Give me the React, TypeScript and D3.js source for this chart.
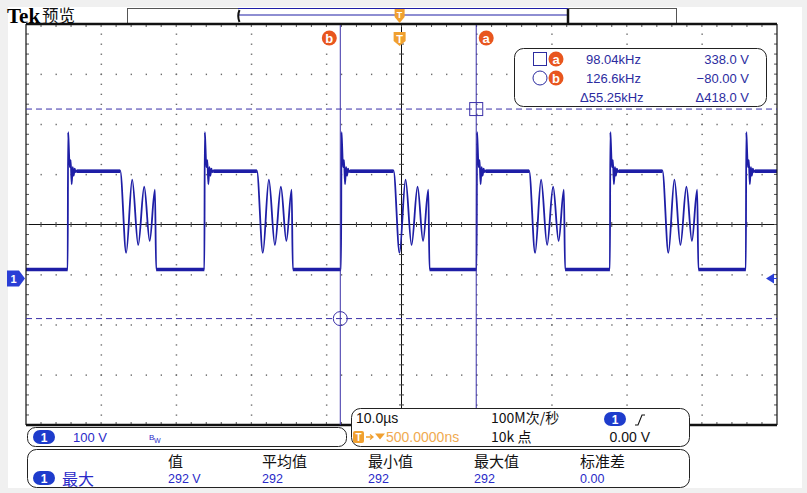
import React from 'react';
import * as d3 from 'd3';

// time of each rising edge (µs, relative to trigger)
const risingEdgesUs = [-44.2, -26.0, -7.8, 10.25, 28.0, 46.1];
// one switching cycle: offset from rising edge (µs) and level (V)
const cycleOffsetUs = [0, 0.06, 0.13, 0.27, 0.4, 0.53, 0.67, 0.8, 0.93, 1.07, 1.2, 6.99, 7.79, 8.59, 9.39, 10.19, 10.92, 11.62, 11.78];
const cycleVolts = [19, 292, 270, 222, 236, 188, 222, 205, 219, 212, 215, 215, 51, 197, 67, 183, 75, 177, 19];

// cursors
const cursorTimesUs = { a: 10.2, b: -7.9 };
const cursorVolts = { a: 338, b: -80 };
const readoutFreq = ['98.04kHz', '126.6kHz', '\u039455.25kHz'];
const readoutVolt = ['338.0 V', '\u221280.00 V', '\u0394418.0 V'];

// measurement table
const measureHeaders = ['值', '平均值', '最小值', '最大值', '标准差'];
const measureValues = ['292 V', '292', '292', '292', '0.00'];

const X0 = 26, X1 = 777, Y0 = 24, Y1 = 425;
const BLUE = '#1e1ea6';
const TXT = '#2c2ca0';
const ORANGE = '#e8561e';
const TORANGE = '#f0a030';

const x = d3.scaleLinear().domain([-49.75, 50.25]).range([X0, X1]);
const y = d3.scaleLinear().domain([-292.3, 507.7]).range([Y1, Y0]);

const App: React.FC = () => {
  const last = cycleOffsetUs.length - 1;
  const tracePts: [number, number][] = [[x.domain()[0], cycleVolts[last]]];
  risingEdgesUs.forEach(e => {
    cycleOffsetUs.forEach((o, i) => tracePts.push([e + o, cycleVolts[i]]));
  });
  const line = d3.line<[number, number]>()
    .x(d => x(d[0]))
    .y(d => y(d[1]))
    .curve(d3.curveMonotoneX);

  // flat parts drawn thicker (noise band)
  const flats: { t0: number; t1: number; v: number }[] = [];
  flats.push({ t0: x.domain()[0], t1: risingEdgesUs[0], v: cycleVolts[last] });
  risingEdgesUs.forEach((e, k) => {
    flats.push({ t0: e + cycleOffsetUs[10], t1: e + cycleOffsetUs[11], v: cycleVolts[10] });
    const next = k < risingEdgesUs.length - 1 ? risingEdgesUs[k + 1] : x.domain()[1];
    flats.push({ t0: e + cycleOffsetUs[last], t1: next, v: cycleVolts[last] });
  });

  const divW = (X1 - X0) / 10;
  const divH = (Y1 - Y0) / 8;
  const cx = X0 + divW * 5;
  const cy = Y0 + divH * 4;
  const minorX = d3.range(1, 50).map(i => X0 + (i * divW) / 5);
  const minorY = d3.range(1, 40).map(i => Y0 + (i * divH) / 5);

  const xa = x(cursorTimesUs.a), xb = x(cursorTimesUs.b);
  const ya = y(cursorVolts.a), yb = y(cursorVolts.b);
  const gnd = y(0);
  const colX = [168, 262, 368, 474, 580];

  const pill = (px: number, py: number) => (
    <g>
      <rect x={px - 11} y={py - 7} width={22} height={14} rx={7} fill="#1e3ccc" />
      <text x={px} y={py + 5} textAnchor="middle" fontSize={12} fontWeight="bold" fill="#fff" fontFamily="Liberation Sans, Arial">1</text>
    </g>
  );
  const badge = (px: number, py: number, ch: string) => (
    <g>
      <circle cx={px} cy={py} r={7.5} fill={ORANGE} />
      <text x={px} y={py + 4.5} textAnchor="middle" fontSize={13} fontWeight="bold" fill="#fff" fontFamily="Liberation Sans, Arial">{ch}</text>
    </g>
  );

  const sans = 'Liberation Sans, Arial, sans-serif';
  const cjk = 'Noto Sans CJK SC, sans-serif';

  return (
    <div style={{ position: 'fixed', left: 0, top: 0 }}>
      <svg width={807} height={493} style={{ display: 'block' }}>
        <defs>
          <clipPath id="grat">
            <rect x={X0} y={Y0} width={X1 - X0} height={Y1 - Y0} />
          </clipPath>
        </defs>
        <rect width={807} height={493} fill="#f0f0f0" />
        <rect x={8} y={7} width={794} height={481} fill="#ffffff" />

        {/* header */}
        <text x={7} y={23} fontFamily="Liberation Serif, serif" fontWeight="bold" fontSize={21} fill="#000">Tek</text>
        <text x={42} y={22} fontFamily={cjk} fontSize={16.5} fill="#111">预览</text>

        {/* record bar */}
        <rect x={127.5} y={8.5} width={549} height={16} fill="#fff" stroke="#555" />
        <line x1={238} x2={568} y1={8.5} y2={8.5} stroke={BLUE} strokeWidth={1.2} />
        <line x1={239} x2={568} y1={15} y2={15} stroke={BLUE} strokeWidth={1.2} />
        <path d="M239.5 10 Q237 16 239.5 22" fill="none" stroke="#111" strokeWidth={2} />
        <line x1={568} x2={568} y1={9} y2={23} stroke="#111" strokeWidth={2.5} />

        {/* graticule dots */}
        <g fill="#6a6a6a">
          {d3.range(1, 10).filter(i => i !== 5).map(i =>
            minorY.map(yy => <rect key={`v${i}-${yy}`} x={X0 + i * divW - 0.5} y={yy - 0.5} width={1.5} height={1.3} />)
          )}
          {d3.range(1, 8).filter(j => j !== 4).map(j =>
            minorX.map(xx => <rect key={`h${j}-${xx}`} x={xx - 0.5} y={Y0 + j * divH - 0.5} width={1.3} height={1.5} />)
          )}
        </g>
        {/* center lines with ticks */}
        <g stroke="#111" strokeWidth={1}>
          <line x1={X0} x2={X1} y1={cy} y2={cy} />
          <line x1={cx} x2={cx} y1={Y0} y2={Y1} />
          {minorX.map(xx => <line key={`ct${xx}`} x1={xx} x2={xx} y1={cy - 2.5} y2={cy + 2.5} stroke="#444" />)}
          {minorY.map(yy => <line key={`cv${yy}`} x1={cx - 2.5} x2={cx + 2.5} y1={yy} y2={yy} stroke="#444" />)}
          {minorX.map(xx => <line key={`tt${xx}`} x1={xx} x2={xx} y1={Y0} y2={Y0 + 3} stroke="#555" />)}
          {minorX.map(xx => <line key={`bt${xx}`} x1={xx} x2={xx} y1={Y1 - 3} y2={Y1} stroke="#555" />)}
          {minorY.map(yy => <line key={`lt${yy}`} x1={X0} x2={X0 + 3} y1={yy} y2={yy} stroke="#555" />)}
          {minorY.map(yy => <line key={`rt${yy}`} x1={X1 - 3} x2={X1} y1={yy} y2={yy} stroke="#555" />)}
        </g>

        {/* trace */}
        <g clipPath="url(#grat)">
          {flats.map((f, i) => (
            <line key={`f${i}`} x1={x(f.t0)} x2={x(f.t1)} y1={y(f.v) + 0.5} y2={y(f.v) + 0.5} stroke={BLUE} strokeWidth={3.4} />
          ))}
          <path d={line(tracePts) || ''} fill="none" stroke={BLUE} strokeWidth={1.8} strokeLinejoin="round" />
        </g>

        {/* frame */}
        <line x1={X0} x2={X0} y1={Y0} y2={Y1} stroke="#111" strokeWidth={1.2} />
        <line x1={X1} x2={X1} y1={Y0} y2={Y1} stroke="#111" strokeWidth={1.2} />
        <line x1={X0} x2={X1} y1={Y0} y2={Y0} stroke="#111" strokeWidth={2.4} />
        <line x1={X0} x2={X1} y1={Y1} y2={Y1} stroke="#111" strokeWidth={2.4} />

        {/* cursors */}
        <g stroke="#3a30a8" strokeWidth={1}>
          <line x1={xa} x2={xa} y1={Y0 + 1} y2={Y1} />
          <line x1={xb} x2={xb} y1={Y0 + 1} y2={Y1} />
          <line x1={X0} x2={X1} y1={ya} y2={ya} strokeDasharray="6 4" />
          <line x1={X0} x2={X1} y1={yb} y2={yb} strokeDasharray="6 4" />
          <rect x={xa - 6.5} y={ya - 6.5} width={13} height={13} fill="none" />
          <circle cx={xb} cy={yb} r={7} fill="none" />
        </g>
        {badge(xb - 11, 38, 'b')}
        {badge(xa + 10, 38, 'a')}

        {/* trigger markers */}
        <path d={`M${x(0) - 5} 9 h10 v8 l-5 6 l-5 -6 Z`} fill={TORANGE} />
        <text x={x(0)} y={18} textAnchor="middle" fontSize={9} fontWeight="bold" fill="#fff" fontFamily={sans}>T</text>
        <path d={`M${x(0) - 6} 32 h12 v9 l-6 5 l-6 -5 Z`} fill={TORANGE} />
        <text x={x(0)} y={43} textAnchor="middle" fontSize={11} fontWeight="bold" fill="#fff" fontFamily={sans}>T</text>

        {/* channel ground marker */}
        <path d={`M7 ${gnd - 8} h12 l6 8 l-6 8 h-12 Z`} fill="#2a3ed6" />
        <text x={13.5} y={gnd + 4.5} textAnchor="middle" fontSize={11} fontWeight="bold" fill="#fff" fontFamily={sans}>1</text>
        <path d={`M766 ${gnd} l8 -5 v10 Z`} fill="#2a3ed6" />
        <line x1={774} x2={777} y1={gnd} y2={gnd} stroke="#2a3ed6" />

        {/* cursor readout */}
        <rect x={514.5} y={48.5} width={252} height={58} rx={9} fill="#fff" stroke="#222" />
        <rect x={533.5} y={52.5} width={13} height={13} fill="none" stroke={TXT} />
        <circle cx={540} cy={78} r={7} fill="none" stroke={TXT} />
        {badge(556, 59, 'a')}
        {badge(556, 78, 'b')}
        {readoutFreq.map((s, i) => (
          <text key={`rf${i}`} x={i === 2 ? 580 : 586} y={64 + i * 19} fontSize={13} fill={TXT} fontFamily={sans}>{s}</text>
        ))}
        {readoutVolt.map((s, i) => (
          <text key={`rv${i}`} x={749} y={64 + i * 19} textAnchor="end" fontSize={13} fill={TXT} fontFamily={sans}>{s}</text>
        ))}

        {/* channel panel */}
        <rect x={27.5} y={427.5} width={319} height={19} rx={8} fill="#fff" stroke="#222" />
        {pill(44, 437)}
        <text x={73} y={442} fontSize={13} fill="#2a2ac8" fontFamily={sans}>100 V</text>
        <text x={149} y={440} fontSize={8} fill="#2a2ac8" fontFamily={sans}>B</text>
        <text x={154} y={443} fontSize={7} fill="#2a2ac8" fontFamily={sans}>W</text>

        {/* timebase panel */}
        <rect x={351.5} y={408.5} width={338} height={38} rx={9} fill="#fff" stroke="#222" />
        <text x={356} y={423} fontSize={14} fill="#111" fontFamily={sans}>10.0µs</text>
        <rect x={353} y={431} width={11} height={12} rx={2} fill={TORANGE} />
        <text x={358.5} y={441} textAnchor="middle" fontSize={10} fontWeight="bold" fill="#fff" fontFamily={sans}>T</text>
        <path d="M366 437 h7 M370 434.5 l3 2.5 l-3 2.5" fill="none" stroke={TORANGE} strokeWidth={1.3} />
        <path d="M375 433.5 h10 l-5 6 Z" fill={TORANGE} />
        <text x={386} y={442} fontSize={14} fill="#f0aa50" fontFamily={sans}>500.0000ns</text>
        <text x={491} y={423} fontSize={14} fill="#111" fontFamily={cjk}>100M次/秒</text>
        <text x={491} y={442} fontSize={14} fill="#111" fontFamily={cjk}>10k 点</text>
        {pill(615, 419)}
        <path d="M635 425 h3 l4 -10 h3" fill="none" stroke="#111" strokeWidth={1.1} />
        <text x={650} y={442} textAnchor="end" fontSize={14} fill="#111" fontFamily={sans}>0.00 V</text>

        {/* measurement panel */}
        <rect x={27.5} y={449.5} width={662} height={38} rx={9} fill="#fff" stroke="#222" />
        {pill(44, 478)}
        <text x={62} y={485} fontSize={16} fill="#2a2ac8" fontFamily={cjk}>最大</text>
        {measureHeaders.map((h, i) => (
          <text key={`mh${i}`} x={colX[i]} y={467} fontSize={15} fill="#111" fontFamily={cjk}>{h}</text>
        ))}
        {measureValues.map((v, i) => (
          <text key={`mv${i}`} x={colX[i]} y={483} fontSize={12.5} fill="#2a2ac8" fontFamily={sans}>{v}</text>
        ))}
      </svg>
    </div>
  );
};

export default App;
